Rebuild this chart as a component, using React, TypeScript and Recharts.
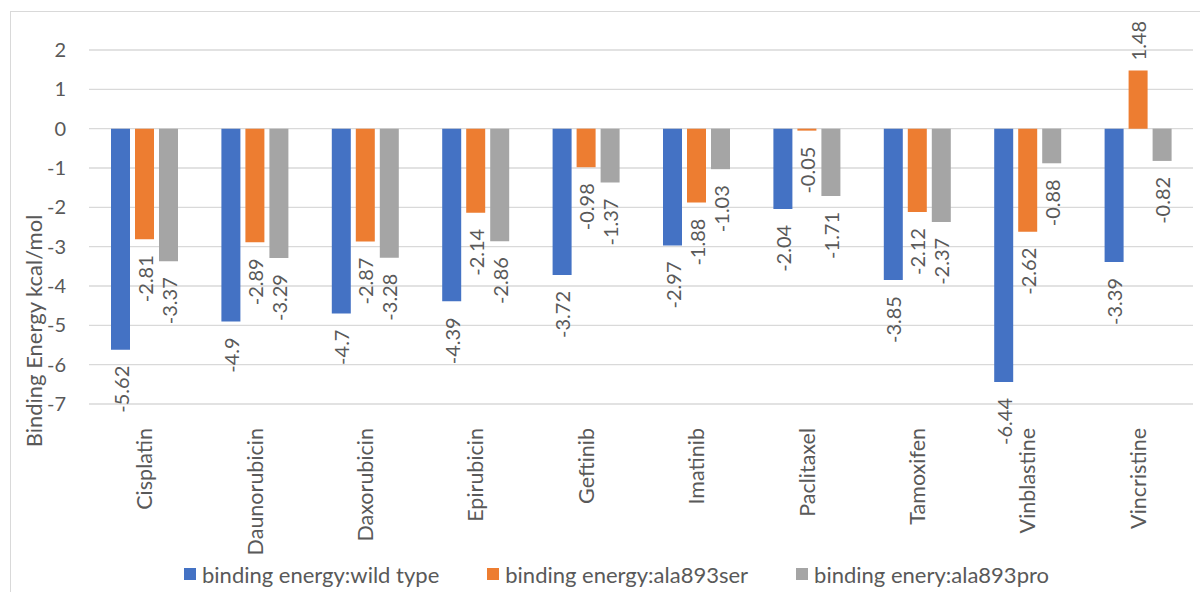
import { BarChart, Bar, XAxis, YAxis, CartesianGrid, Legend, LabelList } from "recharts";

const drugs = [
  "Cisplatin",
  "Daunorubicin",
  "Daxorubicin",
  "Epirubicin",
  "Geftinib",
  "Imatinib",
  "Paclitaxel",
  "Tamoxifen",
  "Vinblastine",
  "Vincristine",
];
const wildType = [-5.62, -4.9, -4.7, -4.39, -3.72, -2.97, -2.04, -3.85, -6.44, -3.39];
const ala893ser = [-2.81, -2.89, -2.87, -2.14, -0.98, -1.88, -0.05, -2.12, -2.62, 1.48];
const ala893pro = [-3.37, -3.29, -3.28, -2.86, -1.37, -1.03, -1.71, -2.37, -0.88, -0.82];
const yTicks = [2, 1, 0, -1, -2, -3, -4, -5, -6, -7];

const series = [
  { key: "wild", name: "binding energy:wild type", color: "#4472C4" },
  { key: "ser", name: "binding energy:ala893ser", color: "#ED7D31" },
  { key: "pro", name: "binding enery:ala893pro", color: "#A5A5A5" },
];

const data = drugs.map((d, i) => ({
  name: d,
  wild: wildType[i],
  ser: ala893ser[i],
  pro: ala893pro[i],
}));

const TEXT = "#595959";

// rotated value label just past the end of the bar
function ValueLabel(props: any) {
  const { x, y, width, height, value } = props;
  const cx = x + width / 2;
  const top = Math.min(y, y + height);
  const bottom = Math.max(y, y + height);
  const neg = value < 0;
  const ay = neg ? bottom + 16 : top - 10;
  return (
    <text
      transform={`translate(${cx},${ay}) rotate(-90)`}
      textAnchor={neg ? "end" : "start"}
      dominantBaseline="central"
      fill={TEXT}
      fontSize={20}
    >
      {value}
    </text>
  );
}

function DrugTick(props: any) {
  const { x, y, payload } = props;
  return (
    <text
      transform={`translate(${x},${y}) rotate(-90)`}
      textAnchor="end"
      dominantBaseline="central"
      fill={TEXT}
      fontSize={21.5}
    >
      {payload.value}
    </text>
  );
}

function LegendBox() {
  return (
    <div
      style={{
        display: "flex",
        justifyContent: "center",
        gap: 48,
        height: 24,
        alignItems: "center",
        fontSize: 22,
        color: TEXT,
        paddingLeft: 28,
        whiteSpace: "nowrap",
      }}
    >
      {series.map((s) => (
        <span key={s.key} style={{ display: "flex", alignItems: "center" }}>
          <span
            style={{
              width: 12,
              height: 12,
              background: s.color,
              display: "inline-block",
              marginRight: 6,
            }}
          />
          {s.name}
        </span>
      ))}
    </div>
  );
}

export default function App() {
  return (
    <div
      style={{
        position: "fixed",
        left: 0,
        top: 0,
        width: 1200,
        height: 592,
        overflow: "hidden",
        background: "#fff",
        fontFamily: "Lato, sans-serif",
      }}
    >
      <div
        style={{
          position: "absolute",
          left: 10,
          top: 11,
          width: 1200,
          height: 600,
          border: "1px solid #d9d9d9",
        }}
      />
      <div style={{ position: "absolute", left: 0, top: 0 }}>
        <BarChart
          width={1200}
          height={592}
          data={data}
          margin={{ top: 50, right: 7, left: 12, bottom: 6 }}
          barGap={5}
          barSize={19}
        >
          <CartesianGrid vertical={false} stroke="#d9d9d9" strokeWidth={1.3} />
          <XAxis
            dataKey="name"
            axisLine={false}
            tickLine={false}
            tickSize={0}
            tickMargin={24}
            height={158}
            interval={0}
            tick={<DrugTick />}
          />
          <YAxis
            domain={[-7, 2]}
            ticks={yTicks}
            interval={0}
            width={77}
            axisLine={false}
            tickLine={false}
            tickSize={0}
            tickMargin={23}
            tick={{ fill: TEXT, fontSize: 20 }}
            label={{
              content: (p: any) => {
                const vb = p.viewBox;
                const cx = vb.x + 21;
                const cy = vb.y + vb.height / 2 + 104;
                return (
                  <text
                    transform={`translate(${cx},${cy}) rotate(-90)`}
                    textAnchor="middle"
                    dominantBaseline="central"
                    fill={TEXT}
                    fontSize={22}
                  >
                    Binding Energy kcal/mol
                  </text>
                );
              },
            }}
          />
          <Legend verticalAlign="bottom" content={<LegendBox />} />
          {series.map((s) => (
            <Bar key={s.key} dataKey={s.key} name={s.name} fill={s.color} isAnimationActive={false}>
              <LabelList dataKey={s.key} content={<ValueLabel />} />
            </Bar>
          ))}
        </BarChart>
      </div>
    </div>
  );
}
